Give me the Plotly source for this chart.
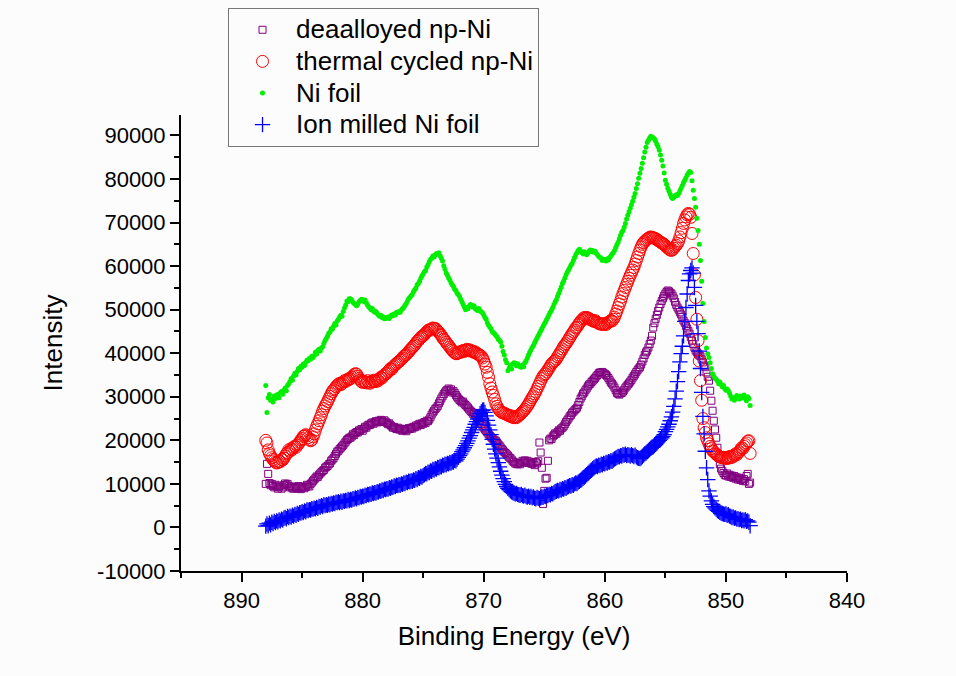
import numpy as np
import plotly.graph_objects as go

# Binding energy grid: 888.0 eV down to 848.0 eV in 0.1 eV steps (401 points)
energy = np.round(888.0 - 0.1 * np.arange(401), 1)

# Intensity (counts), one row of ten values per eV, starting at 888.0 eV
deaalloyed = [
    10000, 14600, 12300, 10200, 9700, 10000, 9500, 9200, 9800, 9400,
    8900, 9300, 9600, 8900, 9200, 9700, 10100, 9800, 10000, 9500,
    9200, 9400, 9000, 8900, 9300, 9100, 8900, 9500, 9200, 8800,
    9100, 9400, 9000, 9300, 9800, 9600, 9400, 10000, 10300, 10700,
    11000, 11300, 11700, 11600, 12100, 12400, 12700, 13000, 13200, 13700,
    13900, 14100, 14500, 14700, 15300, 15600, 15900, 16400, 16900, 17400,
    17600, 18000, 18300, 18600, 18900, 19300, 19700, 20100, 20300, 20600,
    20600, 20900, 21400, 21200, 21700, 21900, 21800, 22300, 22200, 22600,
    22200, 22700, 23100, 22900, 23400, 23600, 23500, 23900, 24100, 23800,
    24200, 24400, 24100, 24500, 24300, 24700, 24500, 24200, 24600, 24300,
    24000, 23700, 23900, 23500, 23200, 22900, 23100, 22800, 22600, 22900,
    22500, 22700, 22300, 22200, 22600, 22400, 22100, 22500, 22800, 22600,
    22900, 22700, 23100, 23000, 23400, 23200, 23600, 23800, 23500, 23900,
    23800, 24200, 24000, 24500, 24400, 24800, 25300, 25900, 26400, 26800,
    27200, 27500, 27900, 28500, 29000, 29600, 30100, 30600, 31000, 31400,
    31600, 31900, 31400, 31700, 31000, 31300, 30900, 30400, 30000, 29600,
    29300, 29000, 28700, 28900, 28400, 28100, 27800, 27500, 27100, 26800,
    26500, 26100, 26300, 25800, 25400, 25000, 24600, 24300, 23800, 23400,
    22900, 22500, 22200, 21800, 21400, 21100, 20800, 20500, 20200, 20000,
    19900, 19500, 19100, 18800, 18400, 18000, 17700, 17300, 17100, 16800,
    16500, 16100, 15900, 15600, 15200, 15000, 14700, 14600, 14500, 14800,
    14500, 14900, 15300, 15100, 15400, 14900, 15300, 14800, 15100, 14700,
    14600, 14900, 14300, 15000, 14700, 15200, 19500, 17200, 13700, 5400,
    8400, 11200, 11400, 15300, 20000, 20400, 20300, 20900, 21200, 21600,
    21500, 21900, 22300, 22200, 22700, 22900, 23200, 23700, 24200, 24600,
    25000, 25500, 25800, 26300, 26600, 26900, 27200, 27500, 28100, 28800,
    29600, 30100, 30700, 31000, 31500, 31900, 32400, 32800, 33000, 33400,
    33700, 34000, 34300, 34700, 35000, 35400, 35600, 35500, 35700, 35400,
    35300, 35000, 34700, 34300, 33800, 33300, 33000, 32600, 32100, 31500,
    30900, 30700, 30500, 30800, 30900, 31200, 31600, 32100, 32400, 32800,
    33100, 33500, 33900, 34400, 34800, 35200, 35700, 36100, 36500, 36800,
    37400, 38100, 38800, 39600, 40200, 40600, 41300, 42100, 42900, 44000,
    45900, 46900, 47900, 48800, 49700, 50500, 51300, 52000, 52600, 53200,
    53700, 54100, 54400, 54200, 53900, 53700, 53200, 52600, 51800, 51100,
    50500, 50000, 49400, 48900, 48300, 47500, 47000, 46300, 45700, 45100,
    44500, 43700, 42900, 42100, 41300, 40600, 40200, 39900, 39500, 39300,
    38600, 37900, 37200, 36800, 35600, 34600, 33700, 31400, 29100, 26800,
    24500, 22500, 20600, 18300, 16000, 14500, 13500, 13000, 12500, 12100,
    11900, 12400, 11700, 12100, 11600, 11900, 11400, 11800, 11200, 11500,
    11000, 11400, 10900, 11200, 10700, 11100, 10600, 11800, 12300, 10000,
    10300,
]

thermal_cycled = [
    20000, 19400, 17800, 17000, 16500, 16000, 15600, 15300, 15000, 14800,
    14900, 15200, 15100, 15600, 15500, 15900, 16400, 16900, 17200, 17800,
    17500, 18100, 17900, 18400, 18700, 18400, 18900, 19200, 19600, 20100,
    20400, 20900, 21100, 21300, 21000, 20600, 20200, 19900, 20100, 20800,
    21500, 22400, 23200, 23800, 24500, 25200, 25900, 26700, 27300, 27900,
    28400, 28900, 29500, 30100, 30700, 31200, 31600, 31900, 32300, 32600,
    32900, 33100, 32800, 33000, 33400, 33700, 33500, 33800, 34100, 34000,
    34200, 34500, 34800, 35100, 35300, 35200, 34700, 34200, 33800, 33500,
    33300, 33600, 33400, 33200, 33700, 33300, 33100, 33500, 33400, 33800,
    33600, 33500, 33900, 33700, 34100, 34500, 34300, 34800, 35000, 35300,
    35400, 35800, 36100, 36500, 36300, 36800, 37100, 37400, 37600, 37900,
    38100, 38400, 38600, 38900, 39300, 39500, 39700, 40000, 40300, 40700,
    41000, 41300, 41600, 41900, 42300, 42700, 42900, 43300, 43600, 43900,
    44000, 44300, 44600, 44900, 45200, 45400, 45300, 45600, 45800, 45700,
    45700, 45400, 45100, 44800, 44400, 44100, 43600, 43200, 42900, 42500,
    42100, 41800, 41400, 41000, 40700, 40400, 40100, 39900, 39900, 40100,
    40300, 40200, 40500, 40600, 40400, 40700, 40900, 40600, 40800, 40500,
    40600, 40400, 40200, 40300, 40000, 39800, 39700, 39500, 39300, 38900,
    38300, 37500, 36800, 35600, 34500, 33000, 32000, 31100, 30300, 29400,
    28400, 27800, 27300, 26900, 26600, 26400, 26300, 26200, 26100, 25900,
    25800, 25700, 25500, 25600, 25300, 25200, 25400, 25200, 25500, 25700,
    25900, 26200, 26500, 26800, 27100, 27500, 27900, 28300, 28800, 29300,
    29800, 30200, 30700, 31200, 31800, 32400, 33000, 33600, 34200, 34700,
    35100, 35300, 35700, 36200, 36600, 37100, 37500, 37800, 38100, 38300,
    38700, 39200, 39600, 40100, 40500, 41000, 41500, 41900, 42200, 42700,
    43100, 43600, 44000, 44500, 44900, 45300, 45800, 46000, 46500, 46900,
    47300, 47600, 47900, 48200, 48000, 48200, 48100, 47900, 47700, 47600,
    47500, 47300, 47500, 47200, 47000, 46900, 46700, 46800, 46600, 46700,
    46800, 46600, 46900, 47100, 47300, 47500, 47400, 47800, 48300, 49000,
    49700, 50500, 51300, 52000, 52900, 53700, 54400, 55100, 55800, 56500,
    57200, 57900, 58500, 59100, 59700, 60500, 61300, 62100, 62900, 63700,
    64400, 65000, 65400, 65700, 66000, 66200, 66400, 66600, 66700, 66600,
    66500, 66400, 66300, 66100, 65900, 65700, 65500, 65300, 65200, 65000,
    64700, 64400, 64200, 63900, 63700, 63600, 63800, 64100, 64500, 64800,
    65200, 65800, 66700, 67700, 68700, 69800, 70600, 71300, 71800, 72100,
    71900, 71200, 67500, 62900, 58000, 52800, 47800, 42900, 38200, 33700,
    29200, 25000, 22900, 21800, 20600, 19900, 19200, 18600, 18100, 17600,
    17400, 17100, 16800, 16600, 16400, 16200, 16100, 16000, 16100, 15900,
    16000, 15800, 16100, 16300, 16000, 16400, 16200, 16600, 16900, 16700,
    17100, 17400, 17800, 18300, 18100, 18600, 19000, 19400, 19800, 19900,
    17000,
]

ni_foil = [
    32600, 26400, 29800, 30500, 29200, 29500, 28800, 30200, 29600, 30400,
    30500, 29800, 30900, 31200, 30600, 31500, 32000, 31400, 32600, 33000,
    33500, 34200, 33800, 34800, 35400, 35000, 35800, 36500, 36200, 37000,
    36800, 37500, 37200, 37900, 38400, 38300, 38800, 38600, 39300, 39000,
    39500, 40200, 39800, 40600, 40900, 40500, 41200, 41500, 42300, 42900,
    43400, 43900, 44600, 44900, 45600, 45500, 46200, 46800, 46500, 47400,
    47800, 48300, 48700, 48500, 49600, 50400, 51100, 52000, 51800, 52500,
    52500, 52200, 51700, 51400, 51200, 50900, 51300, 51800, 52100, 52400,
    52300, 51900, 52200, 51600, 51100, 50700, 50400, 50000, 50300, 49700,
    49400, 49600, 49100, 48800, 48500, 48700, 48200, 48400, 47900, 48000,
    48100, 48300, 48000, 48500, 48800, 48600, 49000, 48800, 49400, 49300,
    49600, 49400, 49900, 50300, 50500, 51000, 51400, 52000, 52500, 52800,
    53200, 53500, 54100, 54600, 55000, 55700, 56000, 56500, 57200, 57800,
    58200, 58700, 59000, 59800, 60300, 61000, 61500, 61800, 62300, 62100,
    62600, 62900, 62700, 63100, 62400, 61800, 61200, 60100, 59300, 58400,
    57900, 57300, 56800, 56200, 55700, 55300, 54700, 54400, 53800, 53500,
    53000, 52400, 51800, 51200, 50600, 50000, 50500, 50200, 50800, 51200,
    51000, 50600, 50900, 50300, 50000, 49800, 50300, 49700, 49500, 49300,
    48800, 48200, 47800, 47000, 46400, 46000, 45600, 45000, 44700, 44500,
    44100, 43800, 43200, 43000, 42600, 41600, 40400, 39600, 38500, 37800,
    36000, 36600, 37200, 36400, 37500, 37800, 37700, 37100, 37600, 37200,
    36900, 36800, 37300, 36900, 37800, 38300, 38900, 39600, 40200, 40800,
    41300, 41800, 42400, 42900, 43500, 44000, 44600, 45100, 45600, 46200,
    46700, 47200, 47800, 48300, 48900, 49400, 49900, 50500, 51200, 51800,
    52300, 53100, 53800, 54500, 55200, 56000, 56600, 57300, 58000, 58600,
    59100, 59600, 60200, 60600, 61300, 62000, 62600, 63100, 63600, 63900,
    63500, 63200, 62800, 63300, 62900, 62600, 63000, 63400, 63700, 63300,
    63600, 63200, 63400, 62900, 62600, 62200, 62000, 61800, 61300, 61600,
    61500, 61200, 61700, 61400, 62000, 62300, 62700, 63100, 63600, 64300,
    64900, 65500, 66300, 67100, 67800, 68200, 68900, 69800, 70800, 71700,
    72500, 73300, 74100, 74900, 75800, 76700, 77800, 78900, 80200, 81300,
    82400, 83600, 84900, 86200, 87300, 88400, 88900, 89400, 89800, 89600,
    89500, 89200, 88700, 88000, 87400, 86600, 85500, 84300, 83000, 81400,
    79700, 78800, 77900, 77200, 76500, 75800, 75500, 75800, 76100, 76400,
    76200, 76700, 77300, 77900, 78500, 79200, 79700, 80300, 80900, 81300,
    81700, 81500, 79600, 77400, 75500, 73500, 71000, 68200, 65000, 61300,
    56500, 51400, 47300, 43600, 41200, 39900, 39000, 37800, 36500, 35300,
    34700, 34200, 34000, 33600, 33000, 33400, 32800, 32300, 32600, 31900,
    31500, 31800, 31400, 30800, 30100, 29500, 29800, 29200, 29600, 30300,
    30000, 29500, 30200, 29700, 29800, 30400, 29600, 29100, 30000, 29600,
    28000,
]

ion_milled = [
    300, 800, 400, 1000, 600, 1200, 900, 1400, 1100, 1500,
    1300, 1700, 1500, 1900, 1700, 2100, 2300, 2000, 2500, 2300,
    2600, 2400, 2800, 2600, 3000, 2800, 3200, 3000, 3400, 3300,
    3600, 3400, 3800, 3600, 4000, 3900, 4100, 4000, 4300, 4200,
    4400, 4300, 4600, 4400, 4800, 4700, 5000, 4800, 5200, 5000,
    5200, 5100, 5400, 5200, 5500, 5400, 5600, 5500, 5800, 5700,
    5900, 5700, 6000, 5800, 6100, 6000, 6200, 6100, 6400, 6200,
    6400, 6300, 6600, 6500, 6800, 6600, 6900, 6800, 7100, 7000,
    7200, 7100, 7400, 7300, 7600, 7500, 7700, 7600, 7900, 7800,
    8000, 7900, 8200, 8100, 8400, 8300, 8600, 8500, 8800, 8700,
    8900, 8800, 9100, 9000, 9300, 9200, 9500, 9400, 9700, 9600,
    9800, 9700, 10000, 9900, 10200, 10100, 10400, 10300, 10600, 10500,
    10700, 10600, 10900, 10800, 11200, 11000, 11400, 11300, 11700, 11600,
    11900, 12100, 12400, 12300, 12700, 12600, 13000, 12900, 13300, 13200,
    13500, 13400, 13800, 13700, 14000, 13900, 14300, 14200, 14500, 14400,
    14700, 14600, 14900, 14800, 15100, 15000, 15400, 15300, 15700, 16100,
    16500, 16900, 17400, 17800, 18300, 18800, 19300, 19900, 20500, 21100,
    21800, 22400, 23000, 23700, 24300, 24900, 25500, 26100, 26500, 26900,
    27000, 26400, 25600, 24600, 23500, 22400, 21300, 20200, 19100, 18000,
    16900, 15900, 14900, 13900, 12900, 12000, 11200, 10500, 9900, 9400,
    9000, 8700, 8400, 8200, 8000, 7900, 7700, 7800, 7600, 7500,
    7400, 7600, 7300, 7200, 7400, 7100, 7000, 7200, 6900, 7100,
    6800, 7000, 6700, 6600, 6900, 6700, 6600, 6800, 7000, 6900,
    7200, 7100, 7400, 7300, 7600, 7500, 7800, 7700, 8000, 8200,
    8300, 8500, 8400, 8700, 8600, 8900, 8800, 9100, 9000, 9300,
    9400, 9600, 9500, 9800, 9700, 10000, 10200, 10100, 10400, 10600,
    10800, 11000, 11300, 11500, 11800, 12100, 12400, 12700, 13000, 13200,
    13500, 13700, 13900, 14100, 14000, 14300, 14200, 14500, 14400, 14700,
    14600, 14900, 14800, 15100, 15000, 15300, 15200, 15500, 15700, 15900,
    16100, 16300, 16200, 16500, 16400, 16700, 16600, 16800, 16500, 16700,
    16600, 16400, 16700, 16500, 16300, 16600, 16200, 16000, 15900, 15800,
    16000, 16300, 16600, 16900, 17100, 17400, 17700, 17900, 18200, 18400,
    18500, 18800, 19100, 19400, 19700, 20000, 20300, 20600, 20900, 21300,
    22000, 22500, 23100, 23700, 24500, 25400, 26500, 27800, 29500, 31300,
    33500, 35800, 38000, 39900, 41600, 44000, 47300, 50500, 53600, 56700,
    58200, 59000, 59600, 58400, 55100, 51000, 47300, 44500, 40500, 36500,
    31000, 25500, 21500, 17500, 13700, 11000, 8400, 7200, 6100, 5300,
    4800, 4500, 4200, 3900, 3700, 3500, 3300, 3200, 3100, 3000,
    3100, 2800, 2900, 2600, 2500, 2300, 2400, 2100, 2200, 1900,
    2000, 1800, 1900, 1600, 1700, 1500, 1800, 1400, 1500, 1200,
    400,
]

series = [
    ("deaalloyed np-Ni", deaalloyed, dict(symbol="square-open", size=7, color="#800080",
                                          line=dict(width=1, color="#800080"))),
    ("thermal cycled np-Ni", thermal_cycled, dict(symbol="circle-open", size=12, color="#ff0000",
                                                  line=dict(width=1, color="#ff0000"))),
    ("Ni foil", ni_foil, dict(symbol="circle", size=5, color="#00ee00")),
    ("Ion milled Ni foil", ion_milled, dict(symbol="cross-thin-open", size=11, color="#0000ff",
                                            line=dict(width=1.3, color="#0000ff"))),
]

fig = go.Figure()
for i, (name, values, marker) in enumerate(series):
    # legend rows are spaced for a 22 px font while the label itself is drawn at 26 px
    label = f'<span style="font-size:26px">{name}</span>'
    fig.add_trace(go.Scatter(x=energy, y=values, mode="markers", name=label,
                             marker=marker, legendgroup=f"g{i}"))

font_family = "Arial, Liberation Sans, sans-serif"
axis_font = dict(family=font_family, size=22, color="black")
common_axis = dict(showline=True, linecolor="black", linewidth=2, mirror=False,
                   ticks="outside", ticklen=9, tickwidth=2, tickcolor="black",
                   showgrid=False, zeroline=False, tickfont=axis_font)

fig.update_layout(
    width=956, height=676,
    margin=dict(l=181, r=109, t=115, b=105, autoexpand=False),
    paper_bgcolor="#fcfcfc", plot_bgcolor="#fcfcfc",
    font=dict(family=font_family, color="black"),
    xaxis=dict(range=[895, 840], tickmode="array", tickvals=[890, 880, 870, 860, 850, 840],
               minor=dict(tickvals=[895, 885, 875, 865, 855, 845], ticks="outside", ticklen=5,
                          tickwidth=2, tickcolor="black"),
               title=dict(text="Binding Energy (eV)", font=dict(size=26), standoff=14),
               **common_axis),
    yaxis=dict(range=[-10000, 94700], tickmode="array",
               tickvals=[-10000, 0, 10000, 20000, 30000, 40000, 50000, 60000, 70000, 80000, 90000],
               ticktext=["-10000", "0", "10000", "20000", "30000", "40000", "50000",
                         "60000", "70000", "80000", "90000"],
               minor=dict(tickvals=[-5000, 5000, 15000, 25000, 35000, 45000, 55000, 65000,
                                    75000, 85000], ticks="outside", ticklen=5, tickwidth=2,
                          tickcolor="black"),
               title=dict(text="Intensity", font=dict(size=26), standoff=27),
               **common_axis),
    legend=dict(x=0.0706, y=1.2347, xanchor="left", yanchor="top",
                bgcolor="#fcfcfc", bordercolor="#777777", borderwidth=1,
                font=dict(size=22, family=font_family),
                tracegroupgap=0, itemwidth=57),
    showlegend=True,
)

fig.write_html("out.html")
